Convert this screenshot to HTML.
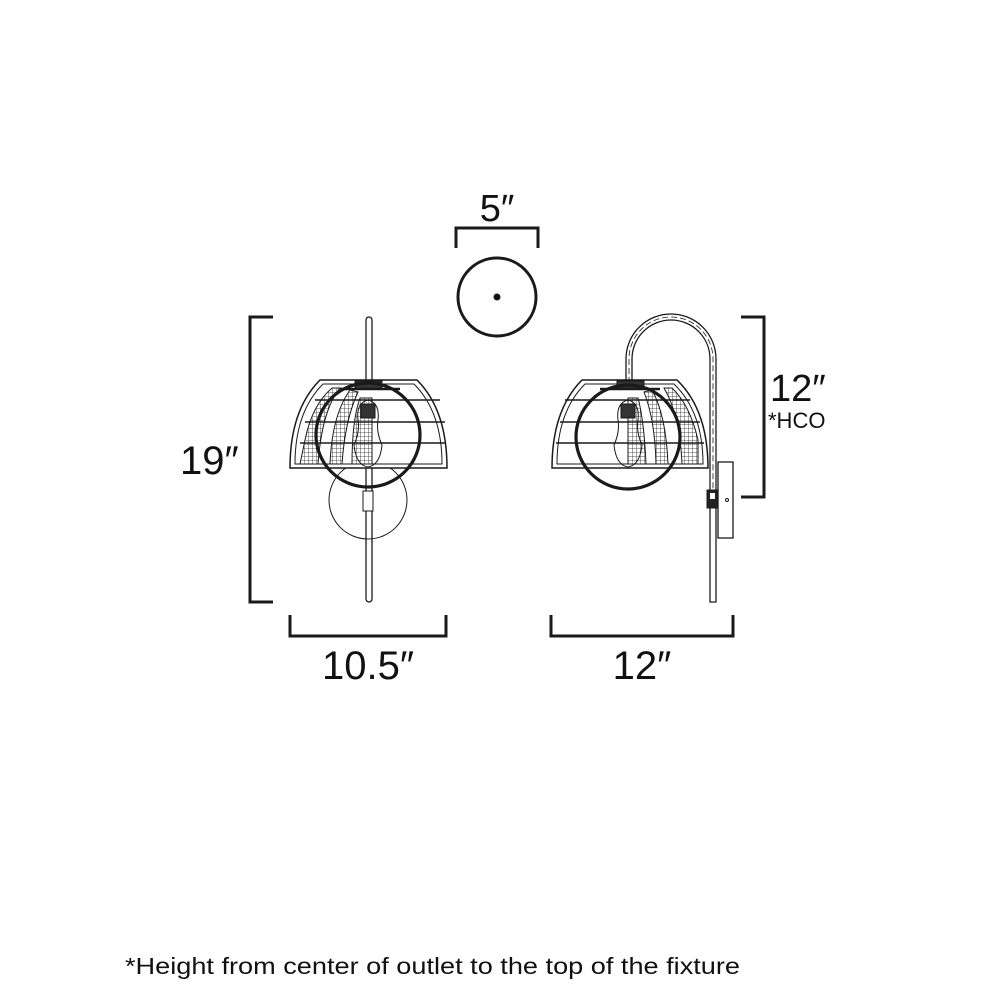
<!DOCTYPE html>
<html><head><meta charset="utf-8"><style>
html,body{margin:0;padding:0;background:#fff;}
svg{display:block;}
text{font-family:"Liberation Sans",sans-serif;fill:#111;}
</style></head><body>
<svg width="1000" height="1000" viewBox="0 0 1000 1000" xmlns="http://www.w3.org/2000/svg">
<defs>
<pattern id="grid" width="4" height="4" patternUnits="userSpaceOnUse">
<path d="M0 0H4M0 0V4" stroke="#222" stroke-width="0.8" fill="none"/>
</pattern>
</defs>
<g fill="none" stroke="#1a1a1a" stroke-linecap="butt">
<path d="M456 248V228H538V248" stroke-width="3"/>
<circle cx="497" cy="297" r="39" stroke-width="3"/>
<circle cx="497" cy="297" r="3" fill="#111"/>

<path d="M273 317H250V602H273" stroke-width="3"/>
<path d="M290 615V636H446V615" stroke-width="3"/>
<path d="M551 615V636H733V615" stroke-width="3"/>
<path d="M741 317H764V497H741" stroke-width="3"/>

<rect x="366" y="317" width="6" height="285" rx="3" stroke-width="1.3" fill="#fff"/>
<circle cx="368" cy="500" r="39" stroke-width="1"/>
<rect x="363" y="491" width="10" height="20" stroke-width="1" fill="#fff"/>
<path d="M320 380H417Q447 410 447 468H290Q290 410 320 380Z" stroke-width="1.5" fill="#fff"/>
<path d="M323 384H414Q442 412 442 464H295Q295 412 323 384Z" stroke-width="1"/>
<path d="M305 440Q312 405 332 388L340 388Q322 410 318 464H300Z" fill="url(#grid)" stroke-width="1"/>
<path d="M330 464Q332 415 350 390L358 392Q345 420 342 464Z" fill="url(#grid)" stroke-width="1"/>
<path d="M352 464Q352 420 360 398L372 398V464Z" fill="url(#grid)" stroke-width="1"/>
<path d="M315 400H440M305 422H445M300 443H446" stroke-width="1.5"/>
<rect x="355" y="381" width="27" height="8" fill="#333" stroke-width="1"/>
<path d="M340 389H400" stroke-width="2.5"/>
<path d="M358 420Q356 403 368 400Q380 403 378 420Q376 432 382 445Q380 465 368 467Q356 465 354 445Q360 432 358 420Z" stroke-width="1" fill="none"/>
<rect x="361" y="404" width="14" height="14" fill="#333" stroke-width="1"/>
<circle cx="368" cy="435" r="52" stroke-width="3.2"/>

<path d="M626 383V359A45 45 0 0 1 716 359V602H710V359A39 39 0 0 0 632 359V383Z" stroke-width="1.3" fill="#fff"/>
<path d="M629 383V359A42 42 0 0 1 713 359V500" stroke-width="0.8" stroke-dasharray="6 3"/>
<rect x="718" y="462" width="15" height="76" stroke-width="1.3" fill="#fff"/>
<circle cx="727" cy="500" r="1.5" stroke-width="1"/>
<rect x="707" y="490" width="11" height="18" fill="#222" stroke-width="1"/>
<rect x="710" y="493" width="5" height="6" fill="#fff" stroke="none"/>
<path d="M582 380H677Q708 410 708 468H552Q552 410 582 380Z" stroke-width="1.5" fill="#fff"/>
<path d="M585 384H674Q703 412 703 464H557Q557 412 585 384Z" stroke-width="1"/>
<path d="M672 388Q690 405 698 440V464H682Q680 415 664 388Z" fill="url(#grid)" stroke-width="1"/>
<path d="M652 390Q666 415 668 464H656Q655 420 644 392Z" fill="url(#grid)" stroke-width="1"/>
<path d="M628 398H638Q644 420 646 464H628Z" fill="url(#grid)" stroke-width="1"/>
<path d="M565 400H690M560 422H700M556 443H704" stroke-width="1.5"/>
<rect x="617" y="381" width="27" height="8" fill="#333" stroke-width="1"/>
<path d="M600 389H660" stroke-width="2.5"/>
<path d="M618 420Q616 403 628 400Q640 403 638 420Q636 432 642 445Q640 465 628 467Q616 465 614 445Q620 432 618 420Z" stroke-width="1"/>
<rect x="621" y="404" width="14" height="14" fill="#333" stroke-width="1"/>
<circle cx="628" cy="437" r="52" stroke-width="3.2"/>
</g>

<text x="497" y="221" font-size="38" text-anchor="middle">5″</text>
<text x="180" y="474" font-size="40">19″</text>
<text x="368" y="679" font-size="40" text-anchor="middle">10.5″</text>
<text x="642" y="679" font-size="40" text-anchor="middle">12″</text>
<text x="770" y="401" font-size="38">12″</text>
<text x="768" y="428" font-size="22">*HCO</text>
<text x="125" y="974" font-size="23" textLength="615" lengthAdjust="spacingAndGlyphs">*Height from center of outlet to the top of the fixture</text>
</svg>
</body></html>
